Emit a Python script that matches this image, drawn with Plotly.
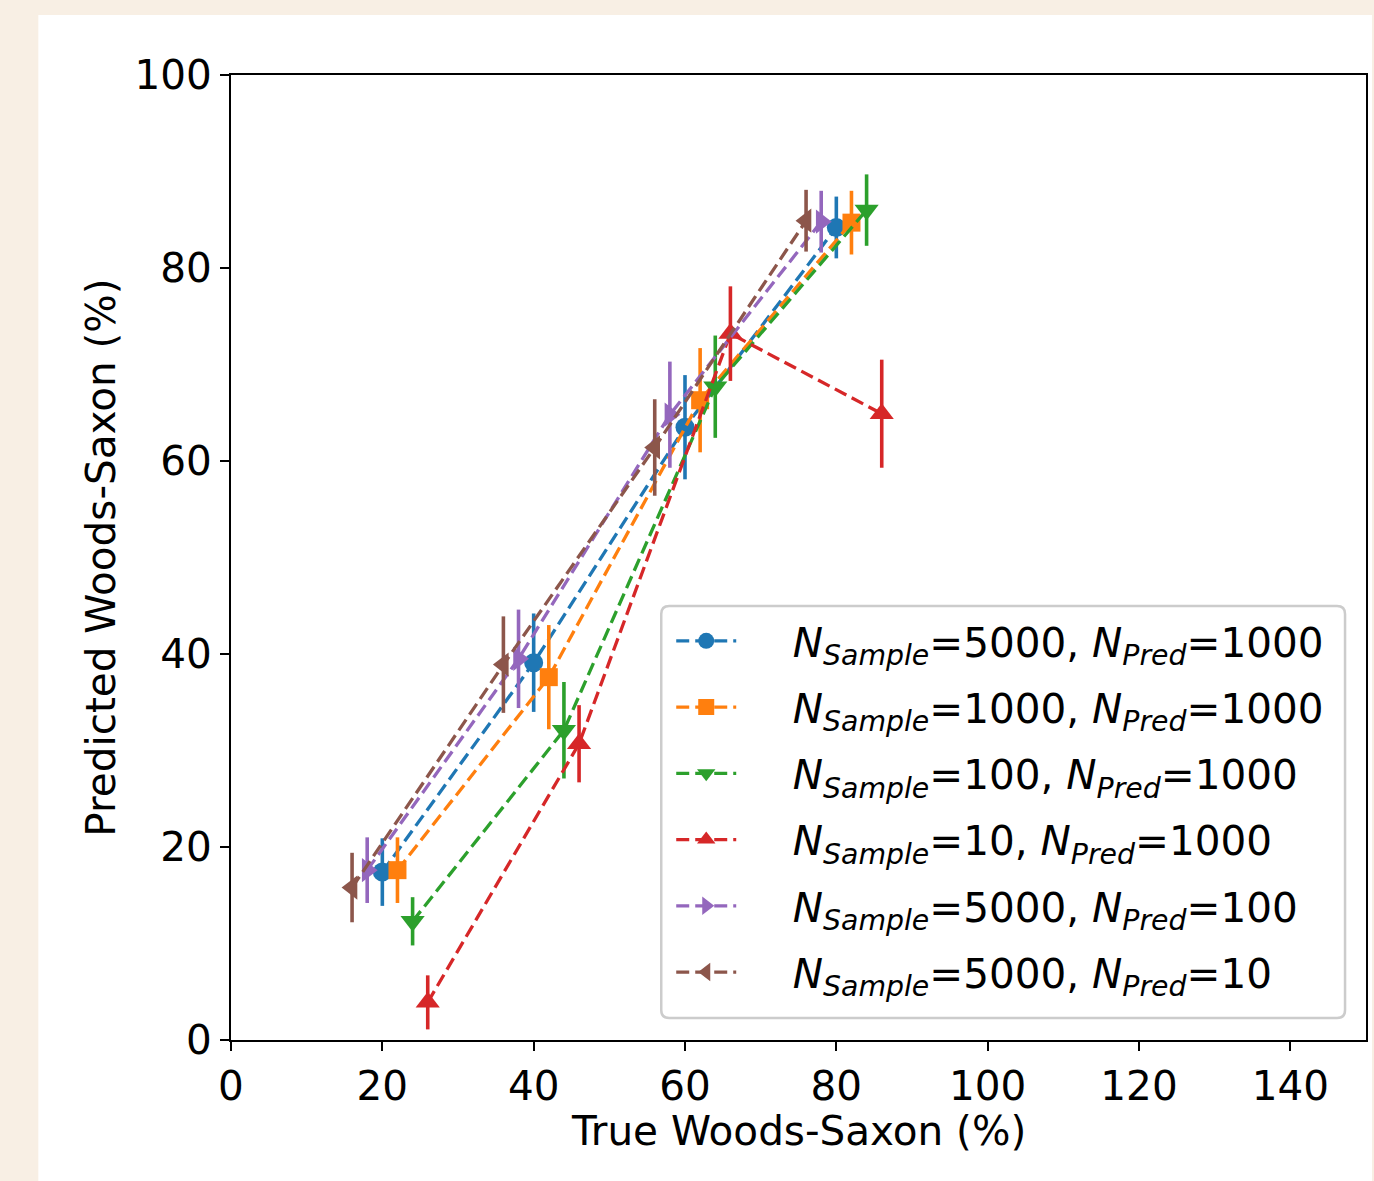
import plotly.graph_objects as go

# Woods-Saxon fraction: true vs predicted, for several sample / prediction sizes
true_x = {
    "s5000_p1000": [20, 40, 60, 80],
    "s1000_p1000": [22, 42, 62, 82],
    "s100_p1000": [24, 44, 64, 84],
    "s10_p1000": [26, 46, 66, 86],
    "s5000_p100": [18, 38, 58, 78],
    "s5000_p10": [16, 36, 56, 76],
}
pred_y = {
    "s5000_p1000": [17.4, 39.1, 63.5, 84.2],
    "s1000_p1000": [17.6, 37.6, 66.3, 84.7],
    "s100_p1000": [12.3, 32.1, 67.7, 86.0],
    "s10_p1000": [3.9, 30.7, 73.2, 64.9],
    "s5000_p100": [17.6, 39.5, 64.8, 84.8],
    "s5000_p10": [15.8, 38.9, 61.4, 84.9],
}
pred_err = {
    "s5000_p1000": [3.5, 5.1, 5.4, 3.2],
    "s1000_p1000": [3.4, 5.4, 5.4, 3.3],
    "s100_p1000": [2.5, 5.0, 5.3, 3.7],
    "s10_p1000": [2.8, 4.0, 4.9, 5.6],
    "s5000_p100": [3.4, 5.1, 5.5, 3.2],
    "s5000_p10": [3.6, 5.0, 5.0, 3.2],
}
labels = {
    "s5000_p1000": "<i>N</i><sub><i>Sample</i></sub>=5000, <i>N</i><sub><i>Pred</i></sub>=1000",
    "s1000_p1000": "<i>N</i><sub><i>Sample</i></sub>=1000, <i>N</i><sub><i>Pred</i></sub>=1000",
    "s100_p1000": "<i>N</i><sub><i>Sample</i></sub>=100, <i>N</i><sub><i>Pred</i></sub>=1000",
    "s10_p1000": "<i>N</i><sub><i>Sample</i></sub>=10, <i>N</i><sub><i>Pred</i></sub>=1000",
    "s5000_p100": "<i>N</i><sub><i>Sample</i></sub>=5000, <i>N</i><sub><i>Pred</i></sub>=100",
    "s5000_p10": "<i>N</i><sub><i>Sample</i></sub>=5000, <i>N</i><sub><i>Pred</i></sub>=10",
}
colors = {
    "s5000_p1000": "#1f77b4",
    "s1000_p1000": "#ff7f0e",
    "s100_p1000": "#2ca02c",
    "s10_p1000": "#d62728",
    "s5000_p100": "#9467bd",
    "s5000_p10": "#8c564b",
}
symbols = {
    "s5000_p1000": ("circle", 19),
    "s1000_p1000": ("square", 18),
    "s100_p1000": ("triangle-down", 21),
    "s10_p1000": ("triangle-up", 21),
    "s5000_p100": ("triangle-right", 21),
    "s5000_p10": ("triangle-left", 21),
}

x_ticks = [0, 20, 40, 60, 80, 100, 120, 140]
y_ticks = [0, 20, 40, 60, 80, 100]
x_title = "True Woods-Saxon (%)"
y_title = "Predicted Woods-Saxon (%)"

FONT = "DejaVu Sans"
FS = 40.5
PAD = "\u00a0" * 4  # gap between legend symbol and label

fig = go.Figure()
for key in true_x:
    sym, size = symbols[key]
    fig.add_trace(go.Scatter(
        x=true_x[key], y=pred_y[key],
        mode="lines+markers",
        name=PAD + labels[key],
        legendgroup=key,
        line=dict(color=colors[key], width=3.3, dash="13px,6px"),
        marker=dict(symbol=sym, size=size, color=colors[key], line=dict(width=0)),
        error_y=dict(type="data", array=pred_err[key], visible=True,
                     color=colors[key], thickness=3.6, width=0),
    ))

W, H = 1374, 1181
L, R, T, B = 231, 6, 75, 141
pw, ph = W - L - R, H - T - B

def px_x(p):
    return (p - L) / pw

def px_y(p):
    return (H - B - p) / ph

shapes = [
    # white figure panel on the beige page
    dict(type="rect", xref="paper", yref="paper", layer="below",
         x0=px_x(38), x1=px_x(1374), y0=px_y(1181), y1=px_y(15),
         fillcolor="white", line=dict(width=0)),
]

# rounded legend frame
lx0, lx1, ly0, ly1, r = 662, 1347, 606, 1018, 8
path = (f"M {lx0 + r},{ly0} L {lx1 - r},{ly0} Q {lx1},{ly0} {lx1},{ly0 + r} "
        f"L {lx1},{ly1 - r} Q {lx1},{ly1} {lx1 - r},{ly1} "
        f"L {lx0 + r},{ly1} Q {lx0},{ly1} {lx0},{ly1 - r} "
        f"L {lx0},{ly0 + r} Q {lx0},{ly0} {lx0 + r},{ly0} Z")

def path_to_paper(p):
    out = []
    for tok in p.split():
        if "," in tok:
            a, b = tok.split(",")
            out.append(f"{px_x(float(a)):.5f},{px_y(float(b)):.5f}")
        else:
            out.append(tok)
    return " ".join(out)

shapes.append(dict(type="path", xref="paper", yref="paper", layer="above",
                   path=path_to_paper(path), fillcolor="rgba(255,255,255,0)",
                   line=dict(color="#cccccc", width=2.5)))

fig.update_layout(
    width=W, height=H,
    margin=dict(l=L, r=R, t=T, b=B),
    paper_bgcolor="#f8efe4",
    plot_bgcolor="white",
    font=dict(family=FONT, size=FS, color="black"),
    showlegend=True,
    legend=dict(
        x=px_x(672), y=px_y(608), xanchor="left", yanchor="top",
        bgcolor="rgba(255,255,255,0)", borderwidth=0,
        font=dict(family=FONT, size=FS, color="black"),
        itemwidth=60, tracegroupgap=10.6,
    ),
    shapes=shapes,
    annotations=[
        dict(text=x_title, xref="paper", yref="paper", x=0.5, y=px_y(1131),
             xanchor="center", yanchor="middle", showarrow=False,
             font=dict(family=FONT, size=FS, color="black")),
    ],
    xaxis=dict(
        range=[0, 150], tickvals=x_ticks, ticktext=[str(v) for v in x_ticks],
        showgrid=False, zeroline=False,
        showline=True, linecolor="black", linewidth=2, mirror=True,
        ticks="outside", ticklen=9, tickwidth=2, tickcolor="black",
        tickfont=dict(family=FONT, size=FS),
    ),
    yaxis=dict(
        range=[0, 100], tickvals=y_ticks, ticktext=[str(v) for v in y_ticks],
        showgrid=False, zeroline=False,
        showline=True, linecolor="black", linewidth=2, mirror=True,
        ticks="outside", ticklen=9, tickwidth=2, tickcolor="black",
        tickfont=dict(family=FONT, size=FS),
        title=dict(text=y_title, font=dict(family=FONT, size=FS), standoff=6),
    ),
)

fig.write_html("out.html")
